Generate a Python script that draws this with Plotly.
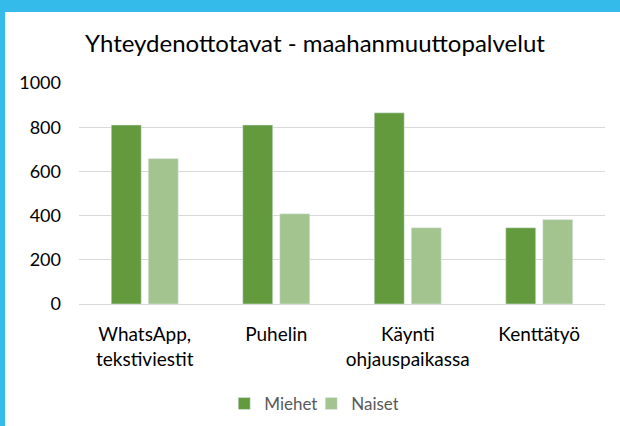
import plotly.graph_objects as go

categories = ["WhatsApp,<br>tekstiviestit", "Puhelin", "Käynti<br>ohjauspaikassa", "Kenttätyö"]
miehet = [810, 810, 865, 345]
naiset = [658, 408, 345, 382]
y_ticks = [0, 200, 400, 600, 800, 1000]

FONT = "Lato"
BLUE = "#35BBE9"

fig = go.Figure()
fig.add_trace(go.Bar(x=categories, y=miehet, name="Miehet", marker_color="#629A3D"))
fig.add_trace(go.Bar(x=categories, y=naiset, name="Naiset", marker_color="#A3C48F"))

# plot area is 79..605 px wide, 83..304 px tall
pw, ph = 526, 221


def px_x(v):
    return (v - 79) / pw


def px_y(v):
    return (304 - v) / ph


fig.update_layout(
    width=620,
    height=426,
    margin=dict(l=79, r=15, t=83, b=122),
    paper_bgcolor="white",
    plot_bgcolor="white",
    barmode="group",
    bargap=0.437,
    bargroupgap=0.19,
    hovermode=False,
    font=dict(family=FONT, color="#000000"),
    title=dict(
        text="Yhteydenottotavat - maahanmuuttopalvelut",
        font=dict(family=FONT, size=24, color="#000000"),
        x=0.508, xref="container", xanchor="center",
        y=1 - 44 / 426, yref="container", yanchor="middle",
    ),
    legend=dict(
        orientation="h",
        x=0.502, xref="container", xanchor="center",
        y=1 - 404 / 426, yref="container", yanchor="middle",
        font=dict(family=FONT, size=17, color="#595959"),
        itemwidth=30,
        entrywidth=42,
        traceorder="normal",
    ),
    shapes=[
        dict(type="rect", xref="paper", yref="paper", layer="above",
             x0=px_x(0), x1=px_x(620), y0=px_y(0), y1=px_y(12),
             fillcolor=BLUE, line_width=0),
        dict(type="rect", xref="paper", yref="paper", layer="above",
             x0=px_x(0), x1=px_x(5), y0=px_y(0), y1=px_y(426),
             fillcolor=BLUE, line_width=0),
    ],
)
fig.update_xaxes(
    showgrid=False,
    showline=True, linecolor="#D9D9D9", linewidth=1,
    tickfont=dict(family=FONT, size=19, color="#000000"),
    ticklabelstandoff=13,
)
fig.update_yaxes(
    range=[0, 1000],
    tickvals=y_ticks,
    showgrid=True, gridcolor="#D9D9D9", gridwidth=1,
    zeroline=False,
    tickfont=dict(family=FONT, size=18, color="#000000"),
    ticklabelstandoff=17,
)

# drop the browser's default body margin so the figure fills the window
fig.write_html(
    "out.html",
    config={"displayModeBar": False},
    post_script="document.body.style.margin = '0';",
)
